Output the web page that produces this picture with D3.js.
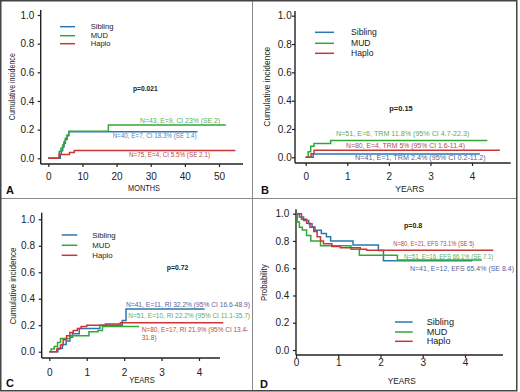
<!DOCTYPE html>
<html><head><meta charset="utf-8">
<script src="https://cdn.jsdelivr.net/npm/d3@7"></script>
<style>body{margin:0;background:#fff} svg{display:block} text{font-family:"Liberation Sans",Arial,sans-serif}</style>
</head><body><svg id="c" width="520" height="392"></svg>
<script>
// ---------- DATA ----------
const groups = ["Sibling", "MUD", "Haplo"];
const ticksMonths = [0, 10, 20, 30, 40, 50];
const ticksYears = [0, 1, 2, 3, 4];
const ticksProb = [0, 0.2, 0.4, 0.6, 0.8, 1.0];

// Panel A: cumulative incidence (months)
const aSibling = [[0,0],[3.5,0.026],[3.8,0.052],[4.2,0.078],[4.6,0.105],[5.0,0.131],[5.5,0.157],[6.0,0.185],[43.7,0.185]];
const aMUD     = [[0,0],[3.2,0.047],[3.7,0.07],[4.2,0.093],[4.6,0.116],[5.0,0.14],[5.5,0.163],[6.0,0.188],[17.6,0.232],[52,0.232]];
const aHaplo   = [[0,0],[3.2,0.027],[6.2,0.04],[7.6,0.055],[54.8,0.055]];
const aNotes   = ["N=43, E=9, CI 23% (SE 2)", "N=40, E=7, CI 18.3% (SE 1.4)", "N=75, E=4, CI 5.5% (SE 2.1)"];
const aP = "p=0.021";

// Panel B: TRM (years)
const bSibling = [[0,0],[0.18,0.024],[4.19,0.024]];
const bMUD     = [[0,0],[0.06,0.039],[0.12,0.078],[0.2,0.098],[0.6,0.118],[4.37,0.118]];
const bHaplo   = [[0,0],[0.13,0.025],[0.2,0.05],[4.67,0.05]];
const bNotes   = ["N=51, E=6, TRM 11.8% (95% CI 4.7-22.3)", "N=80, E=4, TRM 5% (95% CI 1.6-11.4)", "N=41, E=1, TRM 2.4% (95% CI 0.2-11.2)"];
const bP = "p=0.15";

// Panel C: relapse incidence (years)
const cSibling = [[0,0],[0.23,0.027],[0.35,0.054],[0.45,0.08],[0.55,0.11],[0.62,0.135],[0.8,0.175],[1.35,0.2],[1.95,0.235],[2.05,0.322],[4.15,0.322]];
const cMUD     = [[0,0],[0.05,0.02],[0.13,0.04],[0.22,0.07],[0.3,0.1],[0.55,0.12],[1.06,0.15],[1.3,0.16],[1.42,0.19],[2.4,0.19]];
const cHaplo   = [[0,0],[0.2,0.02],[0.3,0.05],[0.37,0.09],[0.46,0.12],[0.55,0.145],[0.64,0.16],[0.75,0.175],[0.85,0.19],[1.0,0.2],[1.5,0.21],[1.9,0.219],[4.65,0.219]];
const cNotes   = ["N=41, E=11, RI 32.2% (95% CI 16.6-48.9)", "N=51, E=10, RI 22.2% (95% CI 11.1-35.7)", "N=80, E=17, RI 21.9% (95% CI 13.4-", "31.8)"];
const cP = "p=0.72";

// Panel D: EFS probability (years)
const dSibling = [[0,1],[0.08,0.976],[0.18,0.951],[0.3,0.927],[0.38,0.902],[0.45,0.878],[0.6,0.854],[0.72,0.83],[0.82,0.8],[1.35,0.77],[1.95,0.73],[2.07,0.654],[4.17,0.654]];
const dMUD     = [[0,1],[0.03,0.94],[0.08,0.9],[0.15,0.88],[0.25,0.84],[0.35,0.8],[0.58,0.765],[1.3,0.74],[1.5,0.696],[2.4,0.661],[4.4,0.661]];
const dHaplo   = [[0,1],[0.13,0.96],[0.25,0.93],[0.33,0.9],[0.42,0.87],[0.5,0.83],[0.58,0.8],[0.65,0.78],[0.85,0.76],[1.05,0.75],[1.52,0.74],[1.67,0.731],[4.67,0.731]];
const dNotes   = ["N=80, E=21, EFS 73.1% (SE 5)", "N=51, E=16, EFS 66.1% (SE 7.1)", "N=41, E=12, EFS 65.4% (SE 8.4)"];
const dP = "p=0.8";

// ---------- STYLE ----------
const lineColor = {Sibling:"#2b78b0", MUD:"#33a635", Haplo:"#cc3535"};
const noteGreen = "#5aac5a", noteRed = "#b24a4a", noteBlue = "#4d86bf", notePurple = "#5a5f9e";

const svg = d3.select("#c");
svg.append("rect").attr("width",520).attr("height",392).attr("fill","#fff");

function txt(g, s, x, y, o = {}) {
  const t = g.append("text").attr("x", x).attr("y", y).text(s)
    .attr("font-size", o.size || 9).attr("fill", o.fill || "#222")
    .attr("font-weight", o.weight || "normal")
    .attr("text-anchor", o.anchor || "start");
  if (o.len) t.attr("textLength", o.len).attr("lengthAdjust", "spacingAndGlyphs");
  if (o.rot) t.attr("transform", `rotate(-90,${x},${y})`);
  return t;
}

function panel(c) {
  const g = svg.append("g");
  const x = d3.scaleLinear().domain([0, c.xt[c.xt.length-1]]).range([c.x0, c.x1]);
  const y = d3.scaleLinear().domain([0, 1]).range([c.y0, c.y1]);
  // axes
  const fs = 10;
  const gx = g.append("g").attr("transform", `translate(0,${c.axY})`)
    .call(d3.axisBottom(x).tickValues(c.xt).tickSize(3).tickSizeOuter(0)
      .tickPadding(c.xlabBase - c.axY - 3 - 0.71*fs).tickFormat(d3.format("d")));
  gx.select(".domain").remove();
  const gy = g.append("g").attr("transform", `translate(${c.axX},0)`)
    .call(d3.axisLeft(y).tickValues(ticksProb).tickSize(3).tickSizeOuter(0)
      .tickPadding(c.axX - 3 - c.ylabRight).tickFormat(d3.format(".1f")));
  gy.select(".domain").remove();
  [gx, gy].forEach(a => {
    a.selectAll("text").attr("font-size", fs).attr("font-family", '"Liberation Sans",Arial,sans-serif').attr("fill", "#222");
    a.selectAll("line").attr("stroke", "#222").attr("stroke-width", 1.2);
  });
  g.append("line").attr("x1", c.axX).attr("x2", c.axRight).attr("y1", c.axY).attr("y2", c.axY)
    .attr("stroke", "#222").attr("stroke-width", 1.4);
  g.append("line").attr("x1", c.axX).attr("x2", c.axX).attr("y1", c.axTop).attr("y2", c.axY)
    .attr("stroke", "#222").attr("stroke-width", 1.4);
  // curves
  const line = d3.line().x(d => x(d[0])).y(d => y(d[1])).curve(d3.curveStepAfter);
  c.series.forEach((s, i) => {
    g.append("path").attr("d", line(s)).attr("fill", "none")
      .attr("stroke", lineColor[groups[i]]).attr("stroke-width", 1.5);
  });
  // legend
  groups.forEach((name, i) => {
    g.append("line").attr("x1", c.leg.x1).attr("x2", c.leg.x2).attr("y1", c.leg.ys[i]).attr("y2", c.leg.ys[i])
      .attr("stroke", lineColor[name]).attr("stroke-width", 1.5);
    txt(g, name, c.leg.tx, c.leg.ys[i] + c.leg.size*0.35, {size: c.leg.size, fill: "#222"});
  });
  // titles
  txt(g, c.yTitle[0], c.yTitle[1], c.yTitle[2], {size: 8.5, anchor: "middle", rot: true, len: c.yTitle[3]});
  txt(g, c.xTitle[0], c.xTitle[1], c.xTitle[2], {size: 8.5, anchor: "middle", len: c.xTitle[3]});
  txt(g, c.p[0], c.p[1], c.p[2], {size: 7.5, weight: "bold", len: c.p[3]});
  txt(g, c.label[0], c.label[1], c.label[2], {size: 11, weight: "bold", fill: "#111"});
  c.notes.forEach(n => txt(g, n[0], n[1], n[2], {size: 7, fill: n[4], len: n[3]}));
}

panel({
  xt: ticksMonths, x0: 48.3, x1: 219, y0: 158.3, y1: 15, axX: 40.7, axY: 164, axRight: 243, axTop: 10,
  xlabBase: 180, ylabRight: 34.3,
  series: [aSibling, aMUD, aHaplo],
  leg: {x1: 60, x2: 75, ys: [26.7, 35.7, 43.7], tx: 90.7, size: 7.6},
  yTitle: ["Cumulative incidence", 15, 86.7, 67], xTitle: ["MONTHS", 144, 191, 32],
  p: [aP, 133, 91, 24.7], label: ["A", 6, 194],
  notes: [[aNotes[0], 140, 123, 80, noteGreen], [aNotes[1], 112.7, 138, 84, noteBlue], [aNotes[2], 129, 156.5, 81, noteRed]]
});
panel({
  xt: ticksYears, x0: 305.7, x1: 472, y0: 157.3, y1: 15.7, axX: 295, axY: 163, axRight: 510.7, axTop: 11,
  xlabBase: 180, ylabRight: 291.7,
  series: [bSibling, bMUD, bHaplo],
  leg: {x1: 315, x2: 334, ys: [32.3, 43.3, 53.3], tx: 351, size: 8.6},
  yTitle: ["Cumulative incidence", 270, 86.7, 80], xTitle: ["YEARS", 409.7, 191.5, 29],
  p: [bP, 389.3, 110.5, 23.4], label: ["B", 261, 194],
  notes: [[bNotes[0], 336, 136, 133.3, noteGreen], [bNotes[1], 346, 148, 119, noteRed], [bNotes[2], 355, 160, 130.7, notePurple]]
});
panel({
  xt: ticksYears, x0: 49.3, x1: 199, y0: 351.7, y1: 219.3, axX: 41.7, axY: 358, axRight: 220, axTop: 212.7,
  xlabBase: 376, ylabRight: 35,
  series: [cSibling, cMUD, cHaplo],
  leg: {x1: 61.7, x2: 77.3, ys: [235, 245.3, 255.3], tx: 92.3, size: 7.8},
  yTitle: ["Cumulative incidence", 16, 286, 77], xTitle: ["YEARS", 142, 383, 25.7],
  p: [cP, 166.7, 269.5, 21.6], label: ["C", 6, 387],
  notes: [[cNotes[0], 126, 307, 124, notePurple], [cNotes[1], 128.3, 318, 121.7, noteGreen],
          [cNotes[2], 141.7, 331.5, 106.6, noteRed], [cNotes[3], 141.7, 340, 15, noteRed]]
});
panel({
  xt: ticksYears, x0: 296, x1: 465, y0: 350, y1: 213.7, axX: 296, axY: 355, axRight: 503, axTop: 209.3,
  xlabBase: 366, ylabRight: 289.3,
  series: [dSibling, dMUD, dHaplo],
  leg: {x1: 395, x2: 412.7, ys: [322, 332, 341.3], tx: 426.7, size: 9.1},
  yTitle: ["Probability", 267, 282.7, 36.7], xTitle: ["YEARS", 401.7, 384, 28],
  p: [dP, 404, 228, 18.3], label: ["D", 260, 388],
  notes: [[dNotes[0], 393.3, 246, 81, noteRed], [dNotes[1], 404, 258.5, 89.3, noteGreen], [dNotes[2], 410, 271, 104, notePurple]]
});

// frame and dividers
svg.append("line").attr("x1", 252.5).attr("x2", 252.5).attr("y1", 0).attr("y2", 391).attr("stroke", "#8a8a8a").attr("stroke-width", 1);
svg.append("line").attr("x1", 0).attr("x2", 517).attr("y1", 198.5).attr("y2", 198.5).attr("stroke", "#8a8a8a").attr("stroke-width", 1);
svg.append("rect").attr("x", 0.75).attr("y", 0.75).attr("width", 516).attr("height", 390).attr("fill", "none").attr("stroke", "#444").attr("stroke-width", 1.5);
</script>
</body></html>
